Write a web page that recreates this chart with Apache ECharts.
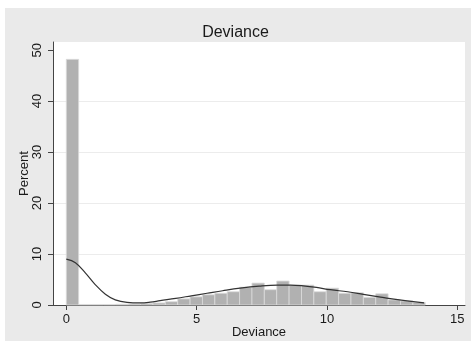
<!DOCTYPE html>
<html>
<head>
<meta charset="utf-8">
<script src="https://cdn.jsdelivr.net/npm/echarts@6/dist/echarts.min.js"></script>
<style>
html,body{margin:0;padding:0;background:#fff;}
#chart{width:471px;height:347px;}
</style>
</head>
<body>
<div id="chart"></div>
<script>
// ---- data ----
var binWidth = 0.475;
var binPercent = [48.2, 0.1, 0.1, 0.1, 0.15, 0.2, 0.3, 0.4, 0.65, 1.2, 1.6, 2.0, 2.3, 2.6, 3.5, 4.3, 3.0, 4.7, 3.9, 3.9, 2.6, 3.3, 2.3, 2.4, 1.5, 2.2, 1.0, 0.8, 0.5];
var densityX = [0, 0.35, 0.73, 1.11, 1.5, 1.88, 2.33, 2.84, 3.22, 3.6, 4.2, 4.8, 5.4, 6.0, 6.67, 7.4, 8.1, 8.6, 9.1, 9.6, 10.13, 10.8, 11.4, 12.0, 12.43, 13.0, 13.73];
var densityY = [9.0, 8.3, 6.3, 4.0, 2.1, 1.0, 0.5, 0.4, 0.55, 0.85, 1.3, 1.8, 2.3, 2.8, 3.3, 3.7, 3.9, 3.9, 3.75, 3.45, 3.0, 2.6, 2.1, 1.6, 1.25, 0.85, 0.4];
var xTicks = [0, 5, 10, 15];
var yTicks = [0, 10, 20, 30, 40, 50];
var titleText = 'Deviance';
var xTitle = 'Deviance';
var yTitle = 'Percent';

var barData = binPercent.map(function (p, k) { return [k * binWidth, (k + 1) * binWidth, p]; });
var lineData = densityX.map(function (x, i) { return [x, densityY[i]]; });

var chart = echarts.init(document.getElementById('chart'), null, {renderer: 'canvas'});
var font = '"Liberation Sans", Arial, sans-serif';
chart.setOption({
  animation: false,
  backgroundColor: '#ffffff',
  graphic: [{
    type: 'rect', z: -10, silent: true,
    shape: {x: 5, y: 8, width: 466, height: 333},
    style: {fill: '#eaeaea'}
  }],
  title: {
    text: titleText, left: 'center', top: 20,
    textStyle: {fontFamily: font, fontSize: 16, fontWeight: 'normal', color: '#1a1a1a'}
  },
  grid: {left: 53, right: 6, top: 42, bottom: 42, show: true, backgroundColor: '#ffffff', borderWidth: 0},
  xAxis: {
    type: 'value', min: -0.51, max: 15.3,
    name: xTitle, nameLocation: 'middle', nameGap: 21, nameMoveOverlap: false,
    nameTextStyle: {fontFamily: font, fontSize: 13, color: '#1a1a1a'},
    axisLine: {show: true, onZero: false, lineStyle: {color: '#444', width: 1}},
    axisTick: {show: true, customValues: xTicks, length: 5, lineStyle: {color: '#444'}},
    axisLabel: {customValues: xTicks, margin: 8, fontFamily: font, fontSize: 13, color: '#1a1a1a'},
    splitLine: {show: false}
  },
  yAxis: {
    type: 'value', min: 0, max: 51.6, interval: 10,
    name: yTitle, nameLocation: 'middle', nameGap: 22, nameRotate: 90, nameMoveOverlap: false,
    nameTextStyle: {fontFamily: font, fontSize: 13, color: '#1a1a1a'},
    axisLine: {show: true, onZero: false, lineStyle: {color: '#444', width: 1}},
    axisTick: {show: true, customValues: yTicks, length: 5, lineStyle: {color: '#444'}},
    axisLabel: {customValues: yTicks, rotate: 90, margin: 9, fontFamily: font, fontSize: 13, color: '#1a1a1a'},
    splitLine: {show: true, showMaxLine: false, lineStyle: {color: '#ececec', width: 1}}
  },
  series: [{
    type: 'custom',
    data: barData,
    encode: {x: [0, 1], y: 2},
    renderItem: function (params, api) {
      var p0 = api.coord([api.value(0), api.value(2)]);
      var p1 = api.coord([api.value(1), 0]);
      return {
        type: 'rect',
        shape: {x: p0[0], y: p0[1], width: p1[0] - p0[0], height: p1[1] - p0[1]},
        style: {fill: '#b1b1b1', stroke: '#dcdcdc', lineWidth: 0.8}
      };
    },
    z: 2
  }, {
    type: 'line',
    data: lineData,
    smooth: 0.4,
    showSymbol: false,
    lineStyle: {color: '#333333', width: 1.2},
    z: 3
  }]
});
</script>
</body>
</html>
